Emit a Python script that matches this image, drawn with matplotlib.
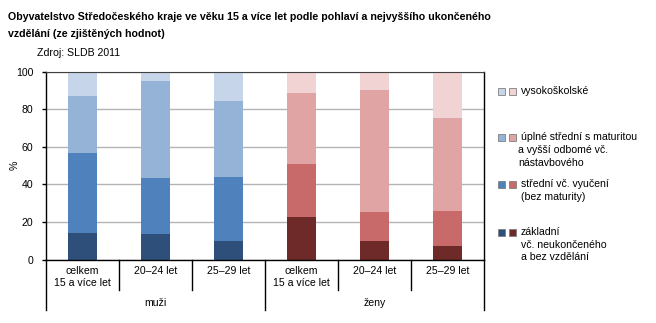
import numpy as np
import matplotlib.pyplot as plt
from matplotlib.patches import Rectangle

plt.rcParams['font.family'] = ['Liberation Sans', 'DejaVu Sans']

# kategorie: muži (3) a ženy (3)
categories = ['celkem\n15 a více let', '20–24 let', '25–29 let',
              'celkem\n15 a více let', '20–24 let', '25–29 let']
groups = ['muži', 'ženy']

# podíly v % (zdola nahoru)
zakladni = [14.0, 13.5, 9.8, 22.7, 9.8, 7.1]
vyuceni = [42.6, 29.8, 34.0, 28.2, 15.4, 18.6]
maturita = [30.5, 51.6, 40.4, 37.8, 65.0, 49.5]
vysokoskolske = [12.9, 5.1, 15.8, 11.3, 9.8, 24.8]

series = [zakladni, vyuceni, maturita, vysokoskolske]
blue = ['#2E4F7A', '#4F81BD', '#95B3D7', '#C6D5EA']
red = ['#6D2A29', '#C8696A', '#DFA4A3', '#F1D3D4']

legend_lines = [
    (['vysokoškolské'], 3),
    (['úplné střední s maturitou', 'a vyšší odbomé vč.', 'nástavbového'], 2),
    (['střední vč. vyučení', '(bez maturity)'], 1),
    (['základní', 'vč. neukončeného', 'a bez vzdělání'], 0),
]

FS = 7.6
W, H = 656, 323
fig = plt.figure(figsize=(W / 100, H / 100), dpi=100)
ax = fig.add_axes([46 / W, 1 - 259.5 / H, (484 - 46) / W, 188 / H])

x = np.arange(len(categories))
bottom = np.zeros(len(categories))
for i, s in enumerate(series):
    cols = [blue[i]] * 3 + [red[i]] * 3
    ax.bar(x, s, bottom=bottom, width=0.41, color=cols, zorder=2)
    bottom += np.array(s)

ax.set_xlim(-0.5, 5.5)
ax.set_ylim(0, 100)
ax.set_yticks([0, 20, 40, 60, 80, 100])
ax.yaxis.grid(True, color='#B4B4B4', lw=1, zorder=0)
ax.set_xticks([])
ax.tick_params(axis='y', length=3, width=1, pad=6, labelsize=FS, colors='black')
for sp in ['left', 'bottom', 'right']:
    ax.spines[sp].set_color('black')
    ax.spines[sp].set_linewidth(1)
ax.spines['top'].set_color('#404040')
ax.spines['top'].set_zorder(3)
ax.set_ylabel('%', fontsize=FS)
ax.yaxis.set_label_coords(-26 / 438, 0.5)

# dvouúrovňová kategoriální osa
tr = ax.get_xaxis_transform()
for xs in [0.5, 1.5, 3.5, 4.5]:
    ax.plot([xs, xs], [0, -0.162], color='black', lw=1, transform=tr, clip_on=False)
for xs in [-0.5, 2.5, 5.5]:
    ax.plot([xs, xs], [0, -0.269], color='black', lw=1, transform=tr, clip_on=False)
for xi, lab in zip(x, categories):
    ax.text(xi, -0.035, lab, transform=tr, ha='center', va='top', fontsize=FS,
            linespacing=1.2)
for gi, g in enumerate(groups):
    ax.text(gi * 3 + 1, -0.232, g, transform=tr, ha='center', va='center', fontsize=FS)

# titulek
fig.text(8 / W, 1 - 17 / H, 'Obyvatelstvo Středočeského kraje ve věku 15 a více let podle pohlaví a nejvyššího ukončeného',
         fontsize=7.7, fontweight='bold', va='center', ha='left')
fig.text(8 / W, 1 - 34 / H, 'vzdělání (ze zjištěných hodnot)',
         fontsize=7.7, fontweight='bold', va='center', ha='left')
fig.text(37 / W, 1 - 53 / H, 'Zdroj: SLDB 2011', fontsize=FS, va='center', ha='left')

# legenda
legend_y = [91, 137.5, 184, 232]
for (lines, idx), y0 in zip(legend_lines, legend_y):
    for cx, col in [(498, blue[idx]), (509, red[idx])]:
        fig.patches.append(Rectangle((cx / W, 1 - (y0 + 3.5) / H), 7 / W, 7 / H,
                                     transform=fig.transFigure, facecolor=col,
                                     edgecolor='#808080', lw=0.6))
    for j, t in enumerate(lines):
        xt = 521 if j == 0 or idx != 2 else 518
        fig.text(xt / W, 1 - (y0 + j * 12.5) / H, t, fontsize=FS, va='center', ha='left')

fig.savefig('out.png', dpi=100)
